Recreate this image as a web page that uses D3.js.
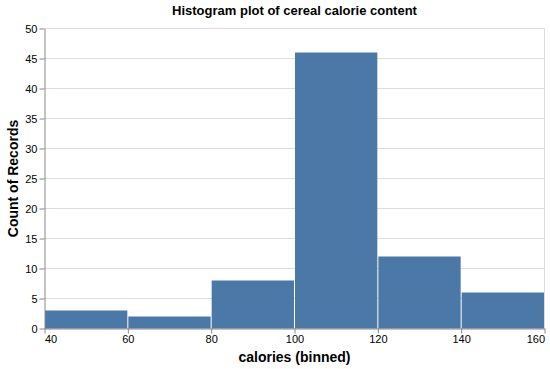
<!DOCTYPE html>
<html>
<head>
<meta charset="utf-8">
<script src="https://cdn.jsdelivr.net/npm/d3@7"></script>
<style>
  body { margin: 0; background: #fff; }
  text { font-family: "Liberation Sans", Arial, sans-serif; }
</style>
</head>
<body>
<div id="chart"></div>
<script>
const binStarts = [40, 60, 80, 100, 120, 140];
const binEnds = [60, 80, 100, 120, 140, 160];
const counts = [3, 2, 8, 46, 12, 6];
const xTicks = [40, 60, 80, 100, 120, 140, 160];
const yTicks = [0, 5, 10, 15, 20, 25, 30, 35, 40, 45, 50];

const width = 550, height = 369;
const margin = { top: 28.5, left: 44.5 };
const plotW = 500, plotH = 300;

const svg = d3.select('#chart').append('svg')
  .attr('width', width).attr('height', height);

const g = svg.append('g')
  .attr('transform', 'translate(' + margin.left + ',' + margin.top + ')');

const x = d3.scaleLinear().domain([40, 160]).range([0, plotW]);
const y = d3.scaleLinear().domain([0, 50]).range([plotH, 0]);

// grid
g.append('g').selectAll('line')
  .data(yTicks)
  .enter().append('line')
  .attr('x1', 0).attr('x2', plotW)
  .attr('y1', d => y(d)).attr('y2', d => y(d))
  .attr('stroke', '#ddd');

g.append('line')
  .attr('x1', plotW).attr('x2', plotW)
  .attr('y1', 0).attr('y2', plotH)
  .attr('stroke', '#ddd');

// bars
const bins = binStarts.map((s, i) => ({ start: s, end: binEnds[i], count: counts[i] }));
g.selectAll('rect.bar')
  .data(bins)
  .enter().append('rect')
  .attr('class', 'bar')
  .attr('x', d => x(d.start) + 0.5)
  .attr('width', d => x(d.end) - x(d.start) - 1)
  .attr('y', d => y(d.count))
  .attr('height', d => plotH - y(d.count))
  .attr('fill', '#4c78a8');

// axes
const xAxis = g.append('g')
  .attr('transform', 'translate(0,' + plotH + ')')
  .call(d3.axisBottom(x).tickValues(xTicks).tickSize(5).tickPadding(2).tickSizeOuter(0));
xAxis.selectAll('text')
  .attr('text-anchor', (d, i) => i === 0 ? 'start' : (i === xTicks.length - 1 ? 'end' : 'middle'));

const yAxis = g.append('g')
  .call(d3.axisLeft(y).tickValues(yTicks).tickSize(5).tickPadding(2).tickSizeOuter(0));

[xAxis, yAxis].forEach(a => {
  a.select('.domain').attr('stroke', '#888');
  a.selectAll('.tick line').attr('stroke', '#888');
  a.selectAll('.tick text')
    .attr('fill', '#000')
    .style('font-size', '11px')
    .style('font-family', '"Liberation Sans", Arial, sans-serif');
});

// titles
svg.append('text')
  .attr('x', margin.left + plotW / 2)
  .attr('y', 15)
  .attr('text-anchor', 'middle')
  .style('font-size', '13px')
  .style('font-weight', 'bold')
  .text('Histogram plot of cereal calorie content');

svg.append('text')
  .attr('x', margin.left + plotW / 2)
  .attr('y', 362)
  .attr('text-anchor', 'middle')
  .style('font-size', '14px')
  .style('font-weight', 'bold')
  .text('calories (binned)');

svg.append('text')
  .attr('transform', 'translate(18,' + (margin.top + plotH / 2) + ') rotate(-90)')
  .attr('text-anchor', 'middle')
  .style('font-size', '14px')
  .style('font-weight', 'bold')
  .text('Count of Records');
</script>
</body>
</html>
